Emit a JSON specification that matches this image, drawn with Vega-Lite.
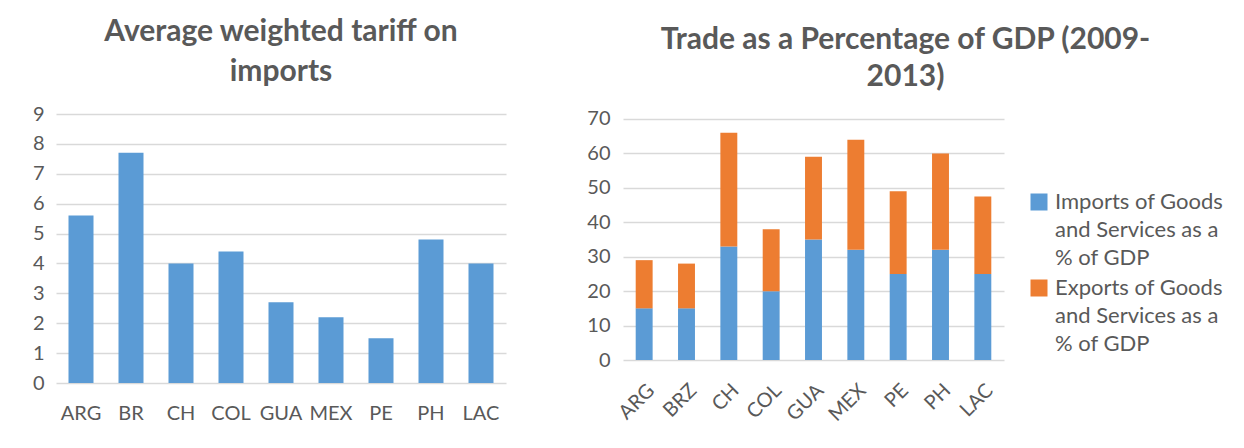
{
  "$schema": "https://vega.github.io/schema/vega-lite/v6.json",
  "background": "white",
  "padding": {"left": 32, "top": 17, "right": 0, "bottom": 0},
  "spacing": 80,
  "datasets": {
    "tariff": [
      {"country": "ARG", "tariff": 5.6},
      {"country": "BR", "tariff": 7.7},
      {"country": "CH", "tariff": 4.0},
      {"country": "COL", "tariff": 4.4},
      {"country": "GUA", "tariff": 2.7},
      {"country": "MEX", "tariff": 2.2},
      {"country": "PE", "tariff": 1.5},
      {"country": "PH", "tariff": 4.8},
      {"country": "LAC", "tariff": 4.0}
    ],
    "trade": [
      {"country": "ARG", "series": "Imports of Goods and Services as a % of GDP", "order": 1, "value": 15},
      {"country": "ARG", "series": "Exports of Goods and Services as a % of GDP", "order": 2, "value": 14},
      {"country": "BRZ", "series": "Imports of Goods and Services as a % of GDP", "order": 1, "value": 15},
      {"country": "BRZ", "series": "Exports of Goods and Services as a % of GDP", "order": 2, "value": 13},
      {"country": "CH", "series": "Imports of Goods and Services as a % of GDP", "order": 1, "value": 33},
      {"country": "CH", "series": "Exports of Goods and Services as a % of GDP", "order": 2, "value": 33},
      {"country": "COL", "series": "Imports of Goods and Services as a % of GDP", "order": 1, "value": 20},
      {"country": "COL", "series": "Exports of Goods and Services as a % of GDP", "order": 2, "value": 18},
      {"country": "GUA", "series": "Imports of Goods and Services as a % of GDP", "order": 1, "value": 35},
      {"country": "GUA", "series": "Exports of Goods and Services as a % of GDP", "order": 2, "value": 24},
      {"country": "MEX", "series": "Imports of Goods and Services as a % of GDP", "order": 1, "value": 32},
      {"country": "MEX", "series": "Exports of Goods and Services as a % of GDP", "order": 2, "value": 32},
      {"country": "PE", "series": "Imports of Goods and Services as a % of GDP", "order": 1, "value": 25},
      {"country": "PE", "series": "Exports of Goods and Services as a % of GDP", "order": 2, "value": 24},
      {"country": "PH", "series": "Imports of Goods and Services as a % of GDP", "order": 1, "value": 32},
      {"country": "PH", "series": "Exports of Goods and Services as a % of GDP", "order": 2, "value": 28},
      {"country": "LAC", "series": "Imports of Goods and Services as a % of GDP", "order": 1, "value": 25},
      {"country": "LAC", "series": "Exports of Goods and Services as a % of GDP", "order": 2, "value": 22.5}
    ]
  },
  "hconcat": [
    {
      "width": 450,
      "height": 269,
      "title": {"text": ["Average weighted tariff on", "imports"], "offset": 17, "lineHeight": 40},
      "data": {"name": "tariff"},
      "mark": {"type": "bar", "color": "#5B9BD5"},
      "encoding": {
        "x": {
          "field": "country", "type": "nominal", "sort": null,
          "scale": {"paddingInner": 0.5, "paddingOuter": 0.25},
          "axis": {"title": null, "labelAngle": 0, "labelPadding": 20}
        },
        "y": {
          "field": "tariff", "type": "quantitative",
          "scale": {"domain": [0, 9], "nice": false},
          "axis": {"title": null, "values": [0,1,2,3,4,5,6,7,8,9], "labelPadding": 12}
        }
      }
    },
    {
      "width": 381,
      "height": 246,
      "title": {"text": ["Trade as a Percentage of GDP (2009-", "2013)"], "offset": 17, "lineHeight": 37, "dx": 92},
      "data": {"name": "trade"},
      "mark": {"type": "bar"},
      "encoding": {
        "x": {
          "field": "country", "type": "nominal", "sort": null,
          "scale": {"paddingInner": 0.6, "paddingOuter": 0.3},
          "axis": {"title": null, "labelAngle": -45, "labelPadding": 20}
        },
        "y": {
          "field": "value", "type": "quantitative", "stack": "zero",
          "scale": {"domain": [0, 71.45], "nice": false},
          "axis": {"title": null, "values": [0,10,20,30,40,50,60,70], "labelPadding": 13}
        },
        "order": {"field": "order", "type": "quantitative"},
        "color": {
          "field": "series", "type": "nominal",
          "sort": ["Imports of Goods and Services as a % of GDP", "Exports of Goods and Services as a % of GDP"],
          "scale": {
            "domain": ["Imports of Goods and Services as a % of GDP", "Exports of Goods and Services as a % of GDP"],
            "range": ["#5B9BD5", "#ED7D31"]
          },
          "legend": {
            "title": null,
            "orient": "none",
            "legendX": 972,
            "legendY": 77,
            "symbolType": "square",
            "symbolSize": 289,
            "symbolStrokeWidth": 0,
            "labelFontSize": 22,
            "labelColor": "#595959",
            "labelFont": "Lato",
            "labelOffset": 5,
            "labelLimit": 300,
            "rowPadding": 8,
            "labelExpr": "datum.label == 'Imports of Goods and Services as a % of GDP' ? ['Imports of Goods', 'and Services as a', '% of GDP'] : ['Exports of Goods', 'and Services as a', '% of GDP']",
            "encode": {"labels": {"update": {"lineHeight": {"value": 28}}}}
          }
        }
      }
    }
  ],
  "config": {
    "font": "Lato",
    "view": {"stroke": null},
    "title": {"fontSize": 30, "fontWeight": "bold", "color": "#595959", "font": "Lato", "anchor": "middle"},
    "axis": {
      "labelFont": "Lato",
      "labelFontSize": 20,
      "labelColor": "#595959",
      "domain": false,
      "ticks": false,
      "gridColor": "#D9D9D9",
      "gridWidth": 1.5
    },
    "axisX": {"grid": false},
    "axisY": {"grid": true}
  }
}
